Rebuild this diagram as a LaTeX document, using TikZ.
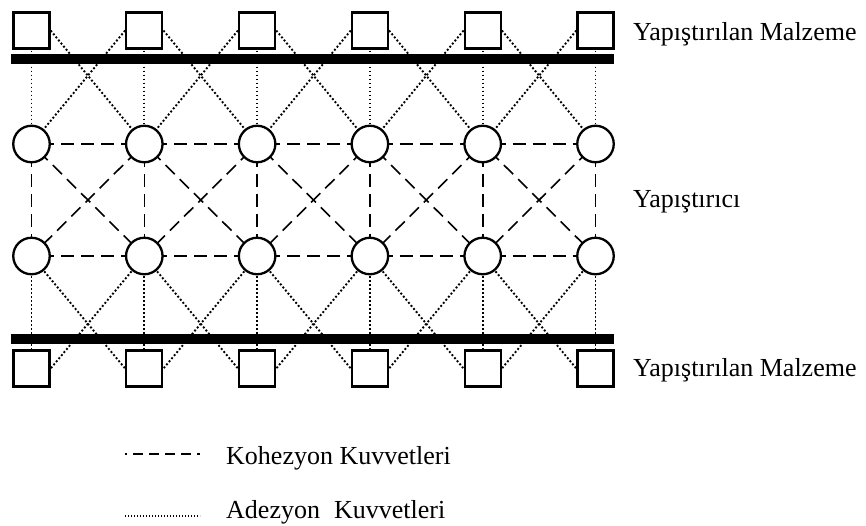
\documentclass[tikz,border=0pt]{standalone}
\usepackage{fontspec}
\setmainfont{Liberation Serif}
\usetikzlibrary{backgrounds}
\begin{document}
\begin{tikzpicture}[x=1pt,y=-1pt,
  particle/.style={circle, draw, line width=2.3pt, fill=white, minimum size=36.5pt, inner sep=0pt},
  block/.style={rectangle, draw, line width=2.3pt, fill=white, minimum size=36pt, inner sep=0pt},
  cohesion/.style={line width=1.6pt, dash pattern=on 13pt off 7pt, dash phase=10.1pt},
  adhesion/.style={line width=1.9pt, dash pattern=on 1.9pt off 2.1pt},
  txt/.style={font=\fontsize{26}{31}\selectfont, anchor=base west, inner sep=0pt}
]
\useasboundingbox (0,0) rectangle (866,525);

% particles of the adhesive and blocks of the bonded material
\foreach \i in {1,...,6} {
  \pgfmathsetmacro\xx{31.5+112.8*(\i-1)}
  \node[block] (t\i) at (\xx,30.5) {};
  \node[particle] (a\i) at (\xx,144) {};
  \node[particle] (b\i) at (\xx,256) {};
  \node[block] (s\i) at (\xx,368.5) {};
}

% bonded surfaces
\fill (11,54) rectangle (614,64);
\fill (11,334) rectangle (614,344);

% force lines behind the particles
\begin{pgfonlayer}{background}
\foreach \i in {1,...,6} {
  \draw[adhesion] (t\i.center) -- (a\i.center);
  \draw[adhesion] (b\i.center) -- (s\i.center);
  \draw[cohesion] (a\i.center) -- (b\i.center);
}
\foreach \i/\j in {1/2,2/3,3/4,4/5,5/6} {
  \draw[adhesion] (t\i.east) -- (a\j.center);
  \draw[adhesion] (t\j.west) -- (a\i.center);
  \draw[adhesion] (b\j.center) -- (s\i.east);
  \draw[adhesion] (b\i.center) -- (s\j.west);
  \draw[cohesion] (a\i.center) -- (a\j.center);
  \draw[cohesion] (b\i.center) -- (b\j.center);
  \draw[cohesion] (a\i.center) -- (b\j.center);
  \draw[cohesion] (a\j.center) -- (b\i.center);
}
\end{pgfonlayer}

% labels
\node[txt] (top) at (633,40) {Yapıştırılan Malzeme};
\node[txt] (mid) at (633,207) {Yapıştırıcı};
\node[txt] (bot) at (633,376) {Yapıştırılan Malzeme};

% legend
\coordinate (k1) at (125,454);
\coordinate (k2) at (200,454);
\draw[line width=1.6pt, dash pattern=on 10pt off 6pt, dash phase=8pt] (k1) -- (k2);
\node[txt] (kt) at (226,464) {Kohezyon Kuvvetleri};
\coordinate (d1) at (125,516);
\coordinate (d2) at (200,516);
\draw[line width=1.4pt, dash pattern=on 1.4pt off 1.6pt] (d1) -- (d2);
\node[txt] (dt) at (226,518) {Adezyon\hspace{14pt}Kuvvetleri};
\end{tikzpicture}
\end{document}
